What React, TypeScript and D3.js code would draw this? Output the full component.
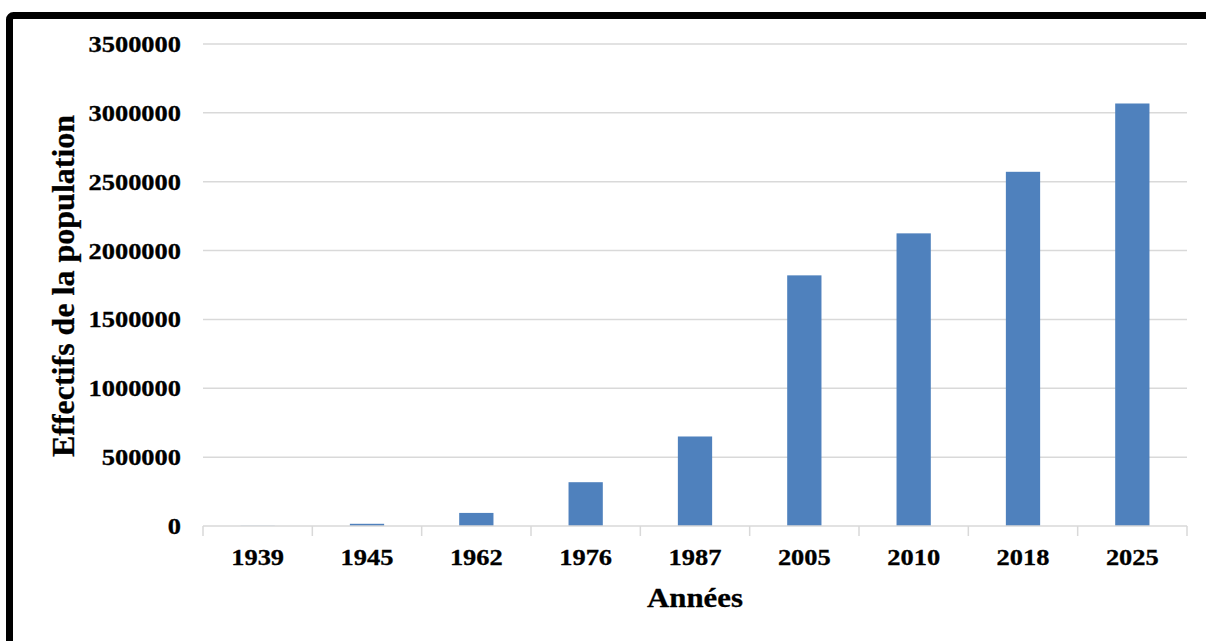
import React from "react";
import * as d3 from "d3";

const years = ["1939", "1945", "1962", "1976", "1987", "2005", "2010", "2018", "2025"];
const population = [1500, 16000, 95000, 318000, 650000, 1820000, 2125000, 2572000, 3068000];
const yTicks = [0, 500000, 1000000, 1500000, 2000000, 2500000, 3000000, 3500000];
const yTitle = "Effectifs de la population";
const xTitle = "Années";

export default function App() {
  const W = 1206, H = 641;
  const left = 203, right = 1187, top = 44, bottom = 526;
  const x = d3.scaleBand<string>().domain(years).range([left, right]).paddingInner(0).paddingOuter(0);
  const y = d3.scaleLinear().domain([0, 3500000]).range([bottom, top]);
  const bw = x.bandwidth() / 3.19;
  const font = "'Liberation Serif', 'Times New Roman', serif";
  const boundaries = [...years.map((c) => x(c) as number), right];

  return (
    <svg width={W} height={H} style={{ position: "absolute", left: 0, top: 0, background: "#fff" }}>
      <rect x={0} y={0} width={W} height={H} fill="#fff" />
      <rect x={9.5} y={15.5} width={1400} height={800} rx={4} fill="none" stroke="#000" strokeWidth={7} />
      {yTicks.map((t) => (
        <g key={t}>
          {t > 0 && (
            <line x1={left} x2={right} y1={y(t)} y2={y(t)} stroke="#d9d9d9" strokeWidth={1.5} />
          )}
          <text
            x={181}
            y={y(t)}
            dy="0.35em"
            textAnchor="end"
            fontFamily={font}
            fontWeight="bold"
            fontSize={23}
            stroke="#000"
            strokeWidth={0.3}
            transform={`translate(181,0) scale(1.15,1) translate(-181,0)`}
          >
            {t}
          </text>
        </g>
      ))}
      {years.map((c, i) => {
        const cx = (x(c) as number) + x.bandwidth() / 2;
        return (
          <g key={c}>
            <rect x={cx - bw / 2} y={y(population[i])} width={bw} height={bottom - y(population[i])} fill="#4f81bd" />
            <text
              x={cx}
              y={565}
              textAnchor="middle"
              fontFamily={font}
              fontWeight="bold"
              fontSize={23}
              stroke="#000"
              strokeWidth={0.3}
              transform={`translate(${cx},0) scale(1.15,1) translate(${-cx},0)`}
            >
              {c}
            </text>
          </g>
        );
      })}
      <line x1={left} x2={right} y1={bottom} y2={bottom} stroke="#d9d9d9" strokeWidth={1.5} />
      {boundaries.map((bx, i) => (
        <line key={i} x1={bx} x2={bx} y1={bottom} y2={bottom + 10} stroke="#d9d9d9" strokeWidth={1.5} />
      ))}
      <text
        x={695}
        y={607}
        textAnchor="middle"
        fontFamily={font}
        fontWeight="bold"
        fontSize={28}
        stroke="#000"
        strokeWidth={0.3}
        transform={`translate(695,0) scale(1.1,1) translate(-695,0)`}
      >
        {xTitle}
      </text>
      <text
        transform={`translate(73.5,286) rotate(-90)`}
        textAnchor="middle"
        fontFamily={font}
        fontWeight="bold"
        fontSize={32}
        stroke="#000"
        strokeWidth={0.3}
      >
        {yTitle}
      </text>
    </svg>
  );
}
